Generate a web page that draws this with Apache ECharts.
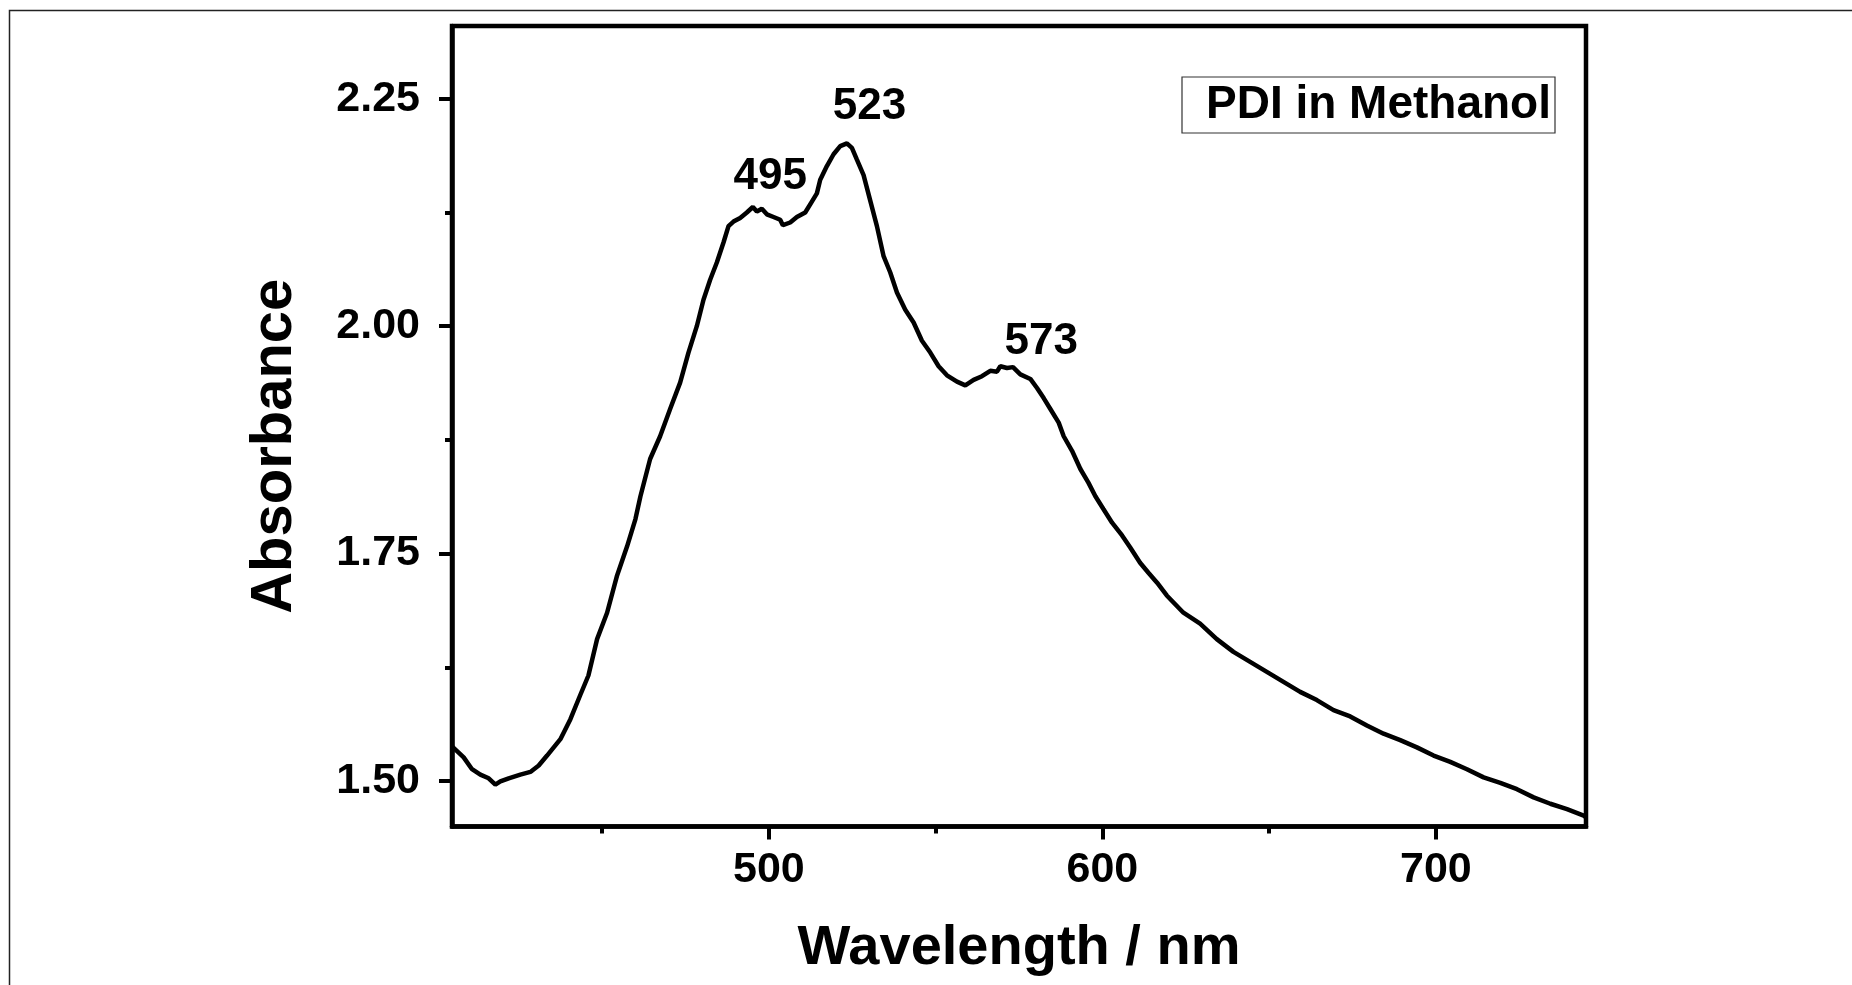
<!DOCTYPE html>
<html>
<head>
<meta charset="utf-8">
<script src="https://cdn.jsdelivr.net/npm/echarts@6/dist/echarts.min.js"></script>
<style>
html,body{margin:0;padding:0;background:#fff;}
#chart{width:1852px;height:985px;}
</style>
</head>
<body>
<div id="chart"></div>
<script>
// Wavelength (nm) and absorbance
const wavelength = [405.0,408.5,411.0,413.5,416.0,418.0,419.5,422.0,425.5,428.5,431.0,433.5,435.5,437.5,440.5,443.4,445.9,448.5,451.5,454.5,457.5,460.0,461.5,464.4,467.4,470.4,473.4,475.9,478.4,480.4,482.4,484.4,486.4,487.9,489.4,491.4,493.4,495.2,496.4,497.9,499.4,501.4,503.4,504.2,506.4,508.4,510.9,512.9,514.4,515.4,517.4,519.4,521.4,523.4,524.9,526.4,528.4,530.4,532.4,534.4,536.4,538.4,540.9,543.4,545.9,548.4,550.9,553.4,556.4,558.9,561.4,563.9,566.4,568.4,569.4,571.4,573.2,575.4,578.4,580.4,582.4,584.4,586.9,588.4,590.9,593.4,595.8,597.9,600.3,602.9,605.9,608.3,611.3,613.8,616.4,619.3,624.3,629.3,634.3,639.3,644.3,649.3,654.3,659.3,664.3,669.3,674.3,679.3,684.3,689.3,694.3,699.3,704.3,709.3,714.3,719.3,724.3,729.3,734.3,739.3,744.3,745.0];
const absorbance = [1.538,1.526,1.513,1.507,1.503,1.496,1.4995,1.503,1.507,1.510,1.517,1.528,1.537,1.546,1.568,1.594,1.616,1.656,1.685,1.726,1.758,1.788,1.813,1.854,1.879,1.909,1.938,1.971,2.000,2.029,2.051,2.070,2.092,2.110,2.115,2.119,2.125,2.131,2.126,2.129,2.123,2.120,2.117,2.111,2.114,2.120,2.125,2.137,2.146,2.161,2.176,2.189,2.198,2.201,2.196,2.183,2.166,2.138,2.110,2.077,2.059,2.037,2.018,2.004,1.984,1.971,1.956,1.946,1.939,1.935,1.941,1.945,1.951,1.950,1.956,1.954,1.955,1.947,1.942,1.932,1.921,1.909,1.894,1.879,1.863,1.843,1.828,1.813,1.799,1.784,1.770,1.757,1.740,1.729,1.718,1.704,1.685,1.673,1.656,1.642,1.631,1.620,1.609,1.598,1.589,1.578,1.571,1.561,1.552,1.545,1.537,1.528,1.521,1.513,1.504,1.498,1.491,1.482,1.475,1.469,1.462,1.460];

// Peak annotations
const peakWavelength = [495, 523, 573];
const peakAbsorbance = [2.131, 2.201, 1.955];
const peakLabels = ['495', '523', '573'];

// Axis ticks
const xMajorTicks = [500, 600, 700];
const xMinorTicks = [450, 550, 650];
const yMajorTicks = [1.50, 1.75, 2.00, 2.25];
const yMinorTicks = [1.625, 1.875, 2.125];

const seriesName = 'PDI in Methanol';

const FONT = '"Liberation Sans", Arial, Helvetica, sans-serif';
const X_MIN = 405, X_MAX = 745, Y_MIN = 1.45, Y_MAX = 2.33;

const lineData = wavelength.map((w, i) => [w, absorbance[i]]);
const labelOffsets = [[18, -30], [24, -36], [29, -25]];
const peakData = peakWavelength.map((w, i) => ({
  value: [w, peakAbsorbance[i]],
  name: peakLabels[i],
  label: { offset: labelOffsets[i] }
}));

const chart = echarts.init(document.getElementById('chart'), null, { renderer: 'canvas' });
chart.setOption({
  animation: false,
  backgroundColor: '#fff',
  graphic: [{
    type: 'rect',
    left: 7, top: 8,
    shape: { width: 1900, height: 1000 },
    style: { fill: 'none', stroke: '#222', lineWidth: 1.5 },
    silent: true
  }],
  grid: {
    left: 452, right: 266, top: 26, bottom: 158.5,
    show: true, borderColor: '#000', borderWidth: 4.5, backgroundColor: 'transparent'
  },
  legend: {
    show: true,
    data: [{ name: seriesName, icon: 'none' }],
    left: 1182, top: 77,
    itemWidth: 0, itemHeight: 0, itemGap: 0,
    padding: [5, 4, 5, 19],
    borderColor: '#333', borderWidth: 1.2,
    textStyle: { fontFamily: FONT, fontWeight: 'bold', fontSize: 46, color: '#000' },
    selectedMode: false
  },
  xAxis: [{
    type: 'value', min: X_MIN, max: X_MAX,
    name: 'Wavelength / nm', nameLocation: 'middle', nameGap: 94,
    nameTextStyle: { fontFamily: FONT, fontWeight: 'bold', fontSize: 56, color: '#000' },
    axisLine: { show: true, onZero: false, lineStyle: { color: '#000', width: 4.5 } },
    axisTick: { show: true, inside: false, length: 13, customValues: xMajorTicks, lineStyle: { color: '#000', width: 4 } },
    axisLabel: { show: true, customValues: xMajorTicks, margin: 22, fontFamily: FONT, fontWeight: 'bold', fontSize: 43, color: '#000' },
    splitLine: { show: false }
  }, {
    type: 'value', min: X_MIN, max: X_MAX, position: 'bottom',
    axisLine: { show: false },
    axisTick: { show: true, inside: false, length: 7, customValues: xMinorTicks, lineStyle: { color: '#000', width: 4 } },
    axisLabel: { show: false },
    splitLine: { show: false }
  }],
  yAxis: [{
    type: 'value', min: Y_MIN, max: Y_MAX,
    name: 'Absorbance', nameLocation: 'middle', nameGap: 148, nameRotate: 90,
    nameTextStyle: { fontFamily: FONT, fontWeight: 'bold', fontSize: 58, color: '#000', padding: [0, 40, 0, 0] },
    axisLine: { show: true, onZero: false, lineStyle: { color: '#000', width: 4.5 } },
    axisTick: { show: true, inside: false, length: 13, customValues: yMajorTicks, lineStyle: { color: '#000', width: 4 } },
    axisLabel: { show: true, customValues: yMajorTicks, margin: 32, formatter: v => Number(v).toFixed(2), fontFamily: FONT, fontWeight: 'bold', fontSize: 43, color: '#000' },
    splitLine: { show: false }
  }, {
    type: 'value', min: Y_MIN, max: Y_MAX, position: 'left',
    axisLine: { show: false },
    axisTick: { show: true, inside: false, length: 7, customValues: yMinorTicks, lineStyle: { color: '#000', width: 4 } },
    axisLabel: { show: false },
    splitLine: { show: false }
  }],
  series: [{
    name: seriesName,
    type: 'line',
    xAxisIndex: 0, yAxisIndex: 0,
    data: lineData,
    showSymbol: false,
    symbol: 'none',
    smooth: false,
    lineStyle: { color: '#000', width: 4.5 },
    itemStyle: { color: '#000' },
    z: 3
  }, {
    name: 'peaks',
    type: 'scatter',
    xAxisIndex: 0, yAxisIndex: 0,
    data: peakData,
    symbolSize: 1,
    itemStyle: { color: 'rgba(0,0,0,0)', opacity: 1 },
    label: {
      show: true, position: 'inside',
      formatter: p => p.name,
      fontFamily: FONT, fontWeight: 'bold', fontSize: 44, color: '#000',
      textBorderWidth: 0
    },
    silent: true,
    z: 4
  }]
});
</script>
</body>
</html>
